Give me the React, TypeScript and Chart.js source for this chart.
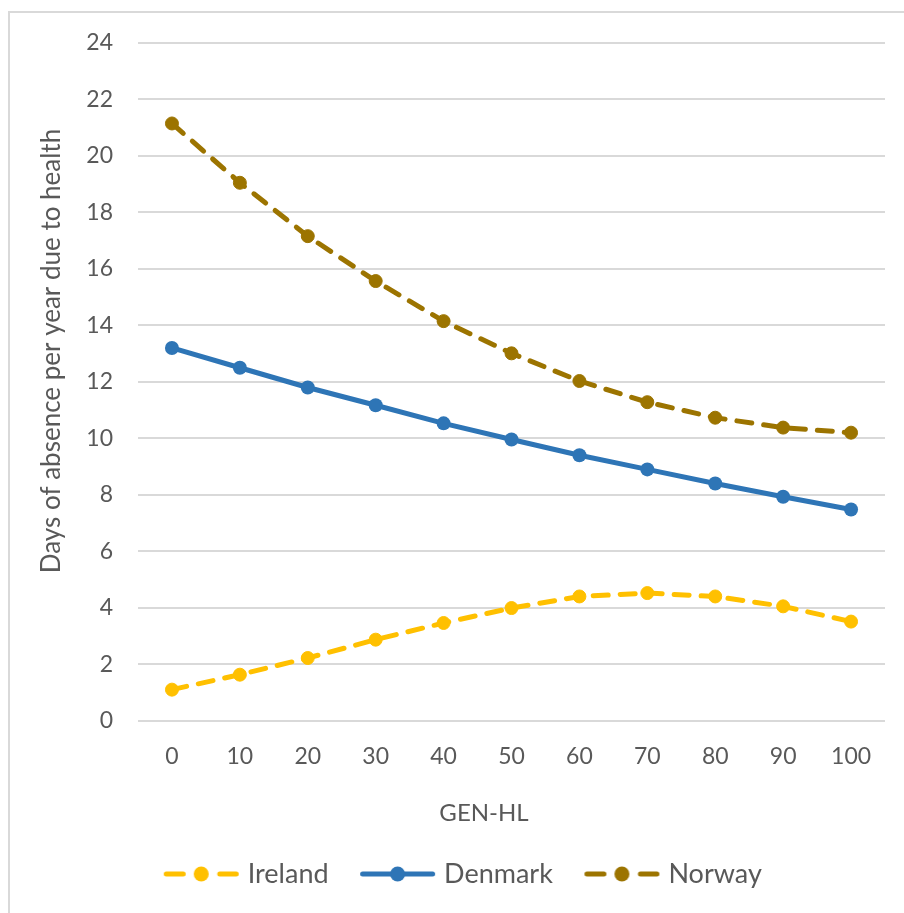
import React, { useEffect, useRef } from "react";
import { Chart, registerables } from "chart.js";

Chart.register(...registerables);

const categories = ["0", "10", "20", "30", "40", "50", "60", "70", "80", "90", "100"];
const irelandValues = [1.1, 1.63, 2.22, 2.87, 3.46, 3.99, 4.4, 4.52, 4.4, 4.05, 3.51];
const denmarkValues = [13.2, 12.5, 11.8, 11.17, 10.53, 9.96, 9.4, 8.9, 8.4, 7.93, 7.48];
const norwayValues = [21.15, 19.05, 17.16, 15.57, 14.15, 13.01, 12.03, 11.28, 10.73, 10.38, 10.2];
const seriesNames = ["Ireland", "Denmark", "Norway"];
const yMin = 0;
const yMax = 24;
const yStep = 2;
const xTitle = "GEN-HL";
const yTitle = "Days of absence per year due to health";

const IRELAND = "#FFC000";
const DENMARK = "#2E75B6";
const NORWAY = "#9C7400";
const TEXT = "#595959";
const GRID = "#d9d9d9";
const FONT = "Lato, 'Open Sans', sans-serif";

function makeIcon(color: string, dashed: boolean, radius: number) {
  const c = document.createElement("canvas");
  c.width = 79;
  c.height = 20;
  const ctx = c.getContext("2d")!;
  ctx.strokeStyle = color;
  ctx.fillStyle = color;
  ctx.lineWidth = 5;
  ctx.lineCap = "round";
  const cy = 10;
  ctx.beginPath();
  if (dashed) {
    ctx.moveTo(4.5, cy);
    ctx.lineTo(21.5, cy);
    ctx.moveTo(58, cy);
    ctx.lineTo(74.5, cy);
  } else {
    ctx.moveTo(4.5, cy);
    ctx.lineTo(74.5, cy);
  }
  ctx.stroke();
  ctx.beginPath();
  ctx.arc(39.5, cy, radius, 0, Math.PI * 2);
  ctx.fill();
  return c;
}

const titlePlugin = {
  id: "customTitles",
  afterLayout(chart: any) {
    if (chart.legend) {
      chart.legend.left += 18;
      chart.legend.right += 18;
    }
  },
  afterDraw(chart: any) {
    const { ctx } = chart;
    ctx.save();
    ctx.fillStyle = TEXT;
    ctx.textAlign = "center";
    ctx.textBaseline = "middle";
    ctx.font = `24px ${FONT}`;
    ctx.fillText(xTitle, 484, 813);
    ctx.font = `26px ${FONT}`;
    ctx.translate(52, 351);
    ctx.rotate(-Math.PI / 2);
    ctx.fillText(yTitle, 0, 0);
    ctx.restore();
  },
};

export default function App() {
  const ref = useRef<HTMLCanvasElement | null>(null);

  useEffect(() => {
    if (!ref.current) return;
    const icons = [
      makeIcon(IRELAND, true, 7.5),
      makeIcon(DENMARK, false, 7.5),
      makeIcon(NORWAY, true, 7.5),
    ];
    const chart = new Chart(ref.current, {
      type: "line",
      data: {
        labels: categories,
        datasets: [
          {
            label: seriesNames[0],
            data: irelandValues,
            borderColor: IRELAND,
            backgroundColor: IRELAND,
            borderWidth: 5,
            borderDash: [15, 12],
            borderCapStyle: "round",
            pointRadius: 6.5,
            pointBackgroundColor: IRELAND,
            pointBorderColor: IRELAND,
            pointBorderWidth: 1,
            tension: 0,
          },
          {
            label: seriesNames[1],
            data: denmarkValues,
            borderColor: DENMARK,
            backgroundColor: DENMARK,
            borderWidth: 5,
            borderCapStyle: "round",
            pointRadius: 7,
            pointBackgroundColor: DENMARK,
            pointBorderColor: DENMARK,
            pointBorderWidth: 0,
            tension: 0,
          },
          {
            label: seriesNames[2],
            data: norwayValues,
            borderColor: NORWAY,
            backgroundColor: NORWAY,
            borderWidth: 5,
            borderDash: [15, 12],
            borderCapStyle: "round",
            pointRadius: 6.5,
            pointBackgroundColor: NORWAY,
            pointBorderColor: NORWAY,
            pointBorderWidth: 1,
            tension: 0,
          },
        ],
      },
      options: {
        animation: false,
        responsive: false,
        layout: { padding: { left: 9, right: 19, top: 43, bottom: 15.5 } },
        scales: {
          x: {
            offset: true,
            grid: { display: false },
            border: { display: false },
            ticks: { color: TEXT, font: { family: FONT, size: 23 }, padding: 14 },
            afterFit: (s: any) => {
              s.height = 103.8;
            },
          },
          y: {
            min: yMin,
            max: yMax,
            grid: { color: GRID, lineWidth: 2, drawTicks: false },
            border: { display: false },
            ticks: { stepSize: yStep, color: TEXT, font: { family: FONT, size: 23 }, padding: 25 },
            afterFit: (s: any) => {
              s.width = 129;
            },
          },
        },
        plugins: {
          tooltip: { enabled: false },
          legend: {
            position: "bottom",
            labels: {
              usePointStyle: true,
              pointStyleWidth: 66,
              padding: 36,
              color: TEXT,
              font: { family: FONT, size: 27 },
              generateLabels: () =>
                seriesNames.map((name, i) => ({
                  text: name,
                  pointStyle: icons[i] as any,
                  fillStyle: "transparent",
                  strokeStyle: "transparent",
                  lineWidth: 0,
                  fontColor: TEXT,
                  hidden: false,
                  datasetIndex: i,
                })),
            },
          },
        },
      },
      plugins: [titlePlugin],
    });
    return () => chart.destroy();
  }, []);

  return (
    <div
      style={{
        position: "fixed",
        left: 0,
        top: 0,
        width: 904,
        height: 913,
        overflow: "hidden",
        background: "#fff",
      }}
    >
      <div
        style={{
          position: "absolute",
          left: 8,
          top: 11,
          width: 1000,
          height: 1000,
          borderLeft: `2px solid ${GRID}`,
          borderTop: `2px solid ${GRID}`,
        }}
      />
      <canvas
        ref={ref}
        width={904}
        height={913}
        style={{ position: "absolute", left: 0, top: 0, width: 904, height: 913 }}
      />
    </div>
  );
}
